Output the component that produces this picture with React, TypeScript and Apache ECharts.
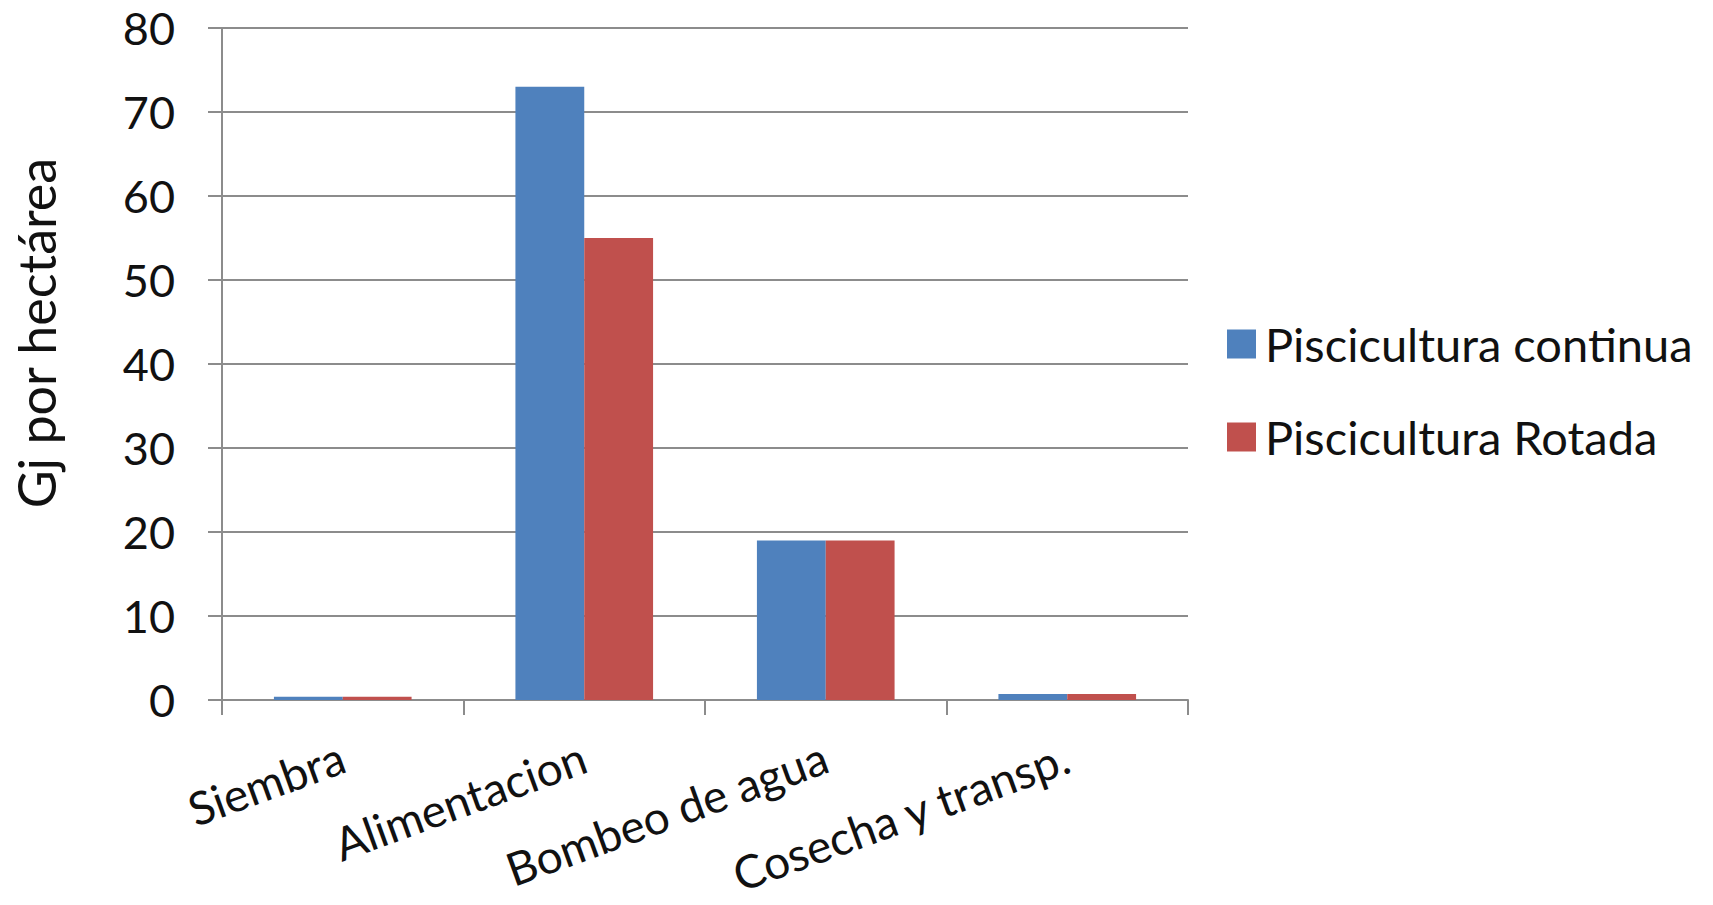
import React, { useEffect, useRef } from "react";
import * as echarts from "echarts";

const categories = ["Siembra", "Alimentacion", "Bombeo de agua", "Cosecha y transp."];
const continua = [0.4, 73, 19, 0.7];
const rotada = [0.4, 55, 19, 0.7];
const seriesNames = ["Piscicultura continua", "Piscicultura Rotada"];
const yTicks = { min: 0, max: 80, interval: 10 };

const FONT = "Lato, 'Noto Sans', sans-serif";
const GRID_COLOR = "#8c8c8c";

export default function App() {
  const ref = useRef<HTMLDivElement>(null);

  useEffect(() => {
    if (!ref.current) return;
    const chart = echarts.init(ref.current, null, { renderer: "svg" });
    chart.setOption({
      animation: false,
      backgroundColor: "#ffffff",
      textStyle: { fontFamily: FONT },
      grid: {
        left: 222,
        right: 525,
        top: 28,
        bottom: 205,
        containLabel: false,
        outerBoundsMode: "none",
      },
      legend: {
        orient: "vertical",
        left: 1222,
        top: 314,
        itemWidth: 29,
        itemHeight: 29,
        itemGap: 43,
        icon: "rect",
        textStyle: { fontFamily: FONT, fontSize: 47, color: "#111", padding: [0, 0, 0, 4], lineHeight: 50 },
        data: seriesNames,
      },
      xAxis: {
        type: "category",
        data: categories,
        boundaryGap: true,
        axisLine: { show: true, lineStyle: { color: GRID_COLOR, width: 2 } },
        axisTick: { show: true, alignWithLabel: false, length: 15, lineStyle: { color: GRID_COLOR, width: 2 } },
        axisLabel: {
          interval: 0,
          rotate: 20,
          margin: 55,
          fontFamily: FONT,
          fontSize: 46,
          lineHeight: 38,
          color: "#111",
        },
      },
      yAxis: {
        type: "value",
        min: yTicks.min,
        max: yTicks.max,
        interval: yTicks.interval,
        axisLine: { show: true, lineStyle: { color: GRID_COLOR, width: 2 } },
        axisTick: { show: true, inside: false, length: 14, lineStyle: { color: GRID_COLOR, width: 2 } },
        splitLine: { show: true, lineStyle: { color: GRID_COLOR, width: 2 } },
        axisLabel: { margin: 47, fontFamily: FONT, fontSize: 45, color: "#111" },
      },
      graphic: [
        {
          type: "text",
          x: 36,
          y: 333,
          rotation: Math.PI / 2,
          style: {
            text: "Gj por hectárea",
            font: `52px ${FONT}`,
            fill: "#111",
            align: "center",
            verticalAlign: "middle",
          },
        },
      ],
      series: [
        {
          name: seriesNames[0],
          type: "bar",
          data: continua,
          barGap: "0%",
          barCategoryGap: "43%",
          itemStyle: { color: "#4F81BD" },
        },
        {
          name: seriesNames[1],
          type: "bar",
          data: rotada,
          barGap: "0%",
          barCategoryGap: "43%",
          itemStyle: { color: "#C0504D" },
        },
      ],
    });
    return () => chart.dispose();
  }, []);

  return <div ref={ref} style={{ width: 1713, height: 905, position: "absolute", left: 0, top: 0 }} />;
}
